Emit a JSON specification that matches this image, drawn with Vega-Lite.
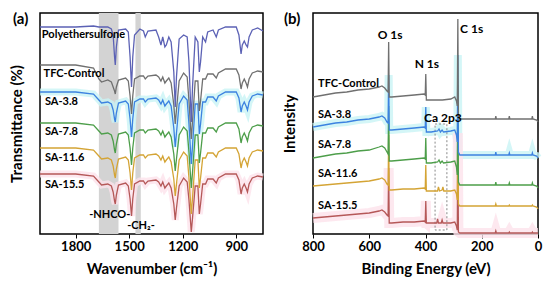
{
"$schema": "https://vega.github.io/schema/vega-lite/v6.json",
"padding": {"left": 8, "top": 11, "right": 0, "bottom": 0},
"config": {
 "view": {"stroke": "#000", "strokeWidth": 1.5},
 "font": "Lato",
 "axis": {"grid": false, "domain": false, "labelFont": "Lato", "labelFontWeight": "bold", "labelFontSize": 13, "labelColor": "#000", "titleFont": "Lato", "titleFontWeight": "bold", "titleFontSize": 15, "titleColor": "#000", "tickColor": "#000", "tickSize": 4, "tickWidth": 1, "labelFlush": false, "labelOverlap": false},
 "concat": {"spacing": 3}
},
"datasets": {
 "bandsA": [{"x": 1670, "x2": 1560}, {"x": 1465, "x2": 1435}],
 "labA": [{"x": 1990, "y": 199, "t": "Polyethersulfone"}, {"x": 1980, "y": 160, "t": "TFC-Control"}, {"x": 1972, "y": 132, "t": "SA-3.8"}, {"x": 1972, "y": 102, "t": "SA-7.8"}, {"x": 1972, "y": 76, "t": "SA-11.6"}, {"x": 1972, "y": 49, "t": "SA-15.5"}],
 "annA": [{"x": 1609, "y": 19, "t": "-NHCO-"}, {"x": 1434, "y": 8, "t": "-CH₂-"}],
 "labB": [{"x": 782, "y": 150, "t": "TFC-Control"}, {"x": 782, "y": 119, "t": "SA-3.8"}, {"x": 782, "y": 89, "t": "SA-7.8"}, {"x": 782, "y": 60, "t": "SA-11.6"}, {"x": 782, "y": 28, "t": "SA-15.5"}],
 "peakB": [{"x": 526, "y": 199, "t": "O 1s"}, {"x": 395, "y": 170, "t": "N 1s"}, {"x": 338, "y": 116, "t": "Ca 2p3"}],
 "cB": [{"x": 277, "y": 205, "t": "C 1s"}],
 "boxB": [{"x": 366, "x2": 324, "y": 110, "y2": 4}],
 "ftir": [
{"s":"SA-15.5","x":2000,"y":60},{"s":"SA-15.5","x":1800,"y":60},{"s":"SA-15.5","x":1700,"y":58},{"s":"SA-15.5","x":1670,"y":52},{"s":"SA-15.5","x":1655,"y":49},{"s":"SA-15.5","x":1620,"y":50},{"s":"SA-15.5","x":1600,"y":48},{"s":"SA-15.5","x":1590,"y":42},{"s":"SA-15.5","x":1582,"y":33},{"s":"SA-15.5","x":1578,"y":30},
{"s":"SA-15.5","x":1572,"y":39},{"s":"SA-15.5","x":1560,"y":49},{"s":"SA-15.5","x":1520,"y":51},{"s":"SA-15.5","x":1505,"y":48},{"s":"SA-15.5","x":1495,"y":35},{"s":"SA-15.5","x":1487,"y":18},{"s":"SA-15.5","x":1480,"y":35},{"s":"SA-15.5","x":1470,"y":50},{"s":"SA-15.5","x":1440,"y":53},{"s":"SA-15.5","x":1420,"y":53},
{"s":"SA-15.5","x":1410,"y":50},{"s":"SA-15.5","x":1395,"y":53},{"s":"SA-15.5","x":1350,"y":54},{"s":"SA-15.5","x":1335,"y":52},{"s":"SA-15.5","x":1322,"y":48},{"s":"SA-15.5","x":1312,"y":52},{"s":"SA-15.5","x":1300,"y":46},{"s":"SA-15.5","x":1292,"y":48},{"s":"SA-15.5","x":1278,"y":51},{"s":"SA-15.5","x":1265,"y":46},
{"s":"SA-15.5","x":1250,"y":30},{"s":"SA-15.5","x":1242,"y":14},{"s":"SA-15.5","x":1235,"y":26},{"s":"SA-15.5","x":1220,"y":48},{"s":"SA-15.5","x":1195,"y":56},{"s":"SA-15.5","x":1175,"y":52},{"s":"SA-15.5","x":1165,"y":34},{"s":"SA-15.5","x":1152,"y":2},{"s":"SA-15.5","x":1145,"y":16},{"s":"SA-15.5","x":1130,"y":48},
{"s":"SA-15.5","x":1115,"y":48},{"s":"SA-15.5","x":1107,"y":20},{"s":"SA-15.5","x":1100,"y":30},{"s":"SA-15.5","x":1088,"y":50},{"s":"SA-15.5","x":1072,"y":50},{"s":"SA-15.5","x":1060,"y":55},{"s":"SA-15.5","x":1030,"y":55},{"s":"SA-15.5","x":1012,"y":51},{"s":"SA-15.5","x":1000,"y":56},{"s":"SA-15.5","x":960,"y":60},
{"s":"SA-15.5","x":900,"y":60},{"s":"SA-15.5","x":885,"y":54},{"s":"SA-15.5","x":873,"y":40},{"s":"SA-15.5","x":866,"y":46},{"s":"SA-15.5","x":855,"y":50},{"s":"SA-15.5","x":845,"y":46},{"s":"SA-15.5","x":837,"y":42},{"s":"SA-15.5","x":828,"y":50},{"s":"SA-15.5","x":810,"y":56},{"s":"SA-15.5","x":780,"y":58},{"s":"SA-15.5","x":750,"y":57},
{"s":"SA-11.6","x":2000,"y":86},{"s":"SA-11.6","x":1800,"y":86},{"s":"SA-11.6","x":1700,"y":84},{"s":"SA-11.6","x":1670,"y":78},{"s":"SA-11.6","x":1655,"y":75},{"s":"SA-11.6","x":1620,"y":76},{"s":"SA-11.6","x":1600,"y":74},{"s":"SA-11.6","x":1590,"y":68},{"s":"SA-11.6","x":1582,"y":59},{"s":"SA-11.6","x":1578,"y":56},
{"s":"SA-11.6","x":1572,"y":65},{"s":"SA-11.6","x":1560,"y":75},{"s":"SA-11.6","x":1520,"y":77},{"s":"SA-11.6","x":1505,"y":74},{"s":"SA-11.6","x":1495,"y":61},{"s":"SA-11.6","x":1487,"y":44},{"s":"SA-11.6","x":1480,"y":61},{"s":"SA-11.6","x":1470,"y":76},{"s":"SA-11.6","x":1440,"y":79},{"s":"SA-11.6","x":1420,"y":79},
{"s":"SA-11.6","x":1410,"y":76},{"s":"SA-11.6","x":1395,"y":79},{"s":"SA-11.6","x":1350,"y":80},{"s":"SA-11.6","x":1335,"y":78},{"s":"SA-11.6","x":1322,"y":74},{"s":"SA-11.6","x":1312,"y":78},{"s":"SA-11.6","x":1300,"y":72},{"s":"SA-11.6","x":1292,"y":74},{"s":"SA-11.6","x":1278,"y":77},{"s":"SA-11.6","x":1265,"y":72},
{"s":"SA-11.6","x":1250,"y":55},{"s":"SA-11.6","x":1242,"y":38},{"s":"SA-11.6","x":1235,"y":50},{"s":"SA-11.6","x":1220,"y":74},{"s":"SA-11.6","x":1195,"y":82},{"s":"SA-11.6","x":1175,"y":78},{"s":"SA-11.6","x":1165,"y":56},{"s":"SA-11.6","x":1152,"y":20},{"s":"SA-11.6","x":1145,"y":36},{"s":"SA-11.6","x":1130,"y":74},
{"s":"SA-11.6","x":1115,"y":74},{"s":"SA-11.6","x":1107,"y":46},{"s":"SA-11.6","x":1100,"y":56},{"s":"SA-11.6","x":1088,"y":76},{"s":"SA-11.6","x":1072,"y":76},{"s":"SA-11.6","x":1060,"y":81},{"s":"SA-11.6","x":1030,"y":81},{"s":"SA-11.6","x":1012,"y":77},{"s":"SA-11.6","x":1000,"y":82},{"s":"SA-11.6","x":960,"y":86},
{"s":"SA-11.6","x":900,"y":86},{"s":"SA-11.6","x":885,"y":80},{"s":"SA-11.6","x":873,"y":66},{"s":"SA-11.6","x":866,"y":72},{"s":"SA-11.6","x":855,"y":76},{"s":"SA-11.6","x":845,"y":72},{"s":"SA-11.6","x":837,"y":68},{"s":"SA-11.6","x":828,"y":76},{"s":"SA-11.6","x":810,"y":82},{"s":"SA-11.6","x":780,"y":84},{"s":"SA-11.6","x":750,"y":83},
{"s":"SA-7.8","x":2000,"y":111},{"s":"SA-7.8","x":1800,"y":111},{"s":"SA-7.8","x":1700,"y":109},{"s":"SA-7.8","x":1670,"y":103},{"s":"SA-7.8","x":1655,"y":100},{"s":"SA-7.8","x":1620,"y":101},{"s":"SA-7.8","x":1600,"y":99},{"s":"SA-7.8","x":1590,"y":93},{"s":"SA-7.8","x":1582,"y":84},{"s":"SA-7.8","x":1578,"y":81},
{"s":"SA-7.8","x":1572,"y":90},{"s":"SA-7.8","x":1560,"y":100},{"s":"SA-7.8","x":1520,"y":102},{"s":"SA-7.8","x":1505,"y":99},{"s":"SA-7.8","x":1495,"y":86},{"s":"SA-7.8","x":1487,"y":69},{"s":"SA-7.8","x":1480,"y":86},{"s":"SA-7.8","x":1470,"y":101},{"s":"SA-7.8","x":1440,"y":104},{"s":"SA-7.8","x":1420,"y":104},
{"s":"SA-7.8","x":1410,"y":101},{"s":"SA-7.8","x":1395,"y":104},{"s":"SA-7.8","x":1350,"y":105},{"s":"SA-7.8","x":1335,"y":103},{"s":"SA-7.8","x":1322,"y":99},{"s":"SA-7.8","x":1312,"y":103},{"s":"SA-7.8","x":1300,"y":97},{"s":"SA-7.8","x":1292,"y":99},{"s":"SA-7.8","x":1278,"y":102},{"s":"SA-7.8","x":1265,"y":97},
{"s":"SA-7.8","x":1250,"y":80},{"s":"SA-7.8","x":1242,"y":63},{"s":"SA-7.8","x":1235,"y":75},{"s":"SA-7.8","x":1220,"y":99},{"s":"SA-7.8","x":1195,"y":107},{"s":"SA-7.8","x":1175,"y":103},{"s":"SA-7.8","x":1165,"y":82},{"s":"SA-7.8","x":1152,"y":46},{"s":"SA-7.8","x":1145,"y":62},{"s":"SA-7.8","x":1130,"y":99},
{"s":"SA-7.8","x":1115,"y":99},{"s":"SA-7.8","x":1107,"y":71},{"s":"SA-7.8","x":1100,"y":81},{"s":"SA-7.8","x":1088,"y":101},{"s":"SA-7.8","x":1072,"y":101},{"s":"SA-7.8","x":1060,"y":106},{"s":"SA-7.8","x":1030,"y":106},{"s":"SA-7.8","x":1012,"y":102},{"s":"SA-7.8","x":1000,"y":107},{"s":"SA-7.8","x":960,"y":111},
{"s":"SA-7.8","x":900,"y":111},{"s":"SA-7.8","x":885,"y":105},{"s":"SA-7.8","x":873,"y":91},{"s":"SA-7.8","x":866,"y":97},{"s":"SA-7.8","x":855,"y":101},{"s":"SA-7.8","x":845,"y":97},{"s":"SA-7.8","x":837,"y":93},{"s":"SA-7.8","x":828,"y":101},{"s":"SA-7.8","x":810,"y":107},{"s":"SA-7.8","x":780,"y":109},{"s":"SA-7.8","x":750,"y":108},
{"s":"SA-3.8","x":2000,"y":142},{"s":"SA-3.8","x":1800,"y":142},{"s":"SA-3.8","x":1700,"y":140},{"s":"SA-3.8","x":1670,"y":134},{"s":"SA-3.8","x":1655,"y":131},{"s":"SA-3.8","x":1620,"y":132},{"s":"SA-3.8","x":1600,"y":130},{"s":"SA-3.8","x":1590,"y":124},{"s":"SA-3.8","x":1582,"y":115},{"s":"SA-3.8","x":1578,"y":112},
{"s":"SA-3.8","x":1572,"y":121},{"s":"SA-3.8","x":1560,"y":131},{"s":"SA-3.8","x":1520,"y":133},{"s":"SA-3.8","x":1505,"y":130},{"s":"SA-3.8","x":1495,"y":115},{"s":"SA-3.8","x":1487,"y":97},{"s":"SA-3.8","x":1480,"y":115},{"s":"SA-3.8","x":1470,"y":132},{"s":"SA-3.8","x":1440,"y":135},{"s":"SA-3.8","x":1420,"y":135},
{"s":"SA-3.8","x":1410,"y":132},{"s":"SA-3.8","x":1395,"y":135},{"s":"SA-3.8","x":1350,"y":136},{"s":"SA-3.8","x":1335,"y":134},{"s":"SA-3.8","x":1322,"y":130},{"s":"SA-3.8","x":1312,"y":134},{"s":"SA-3.8","x":1300,"y":128},{"s":"SA-3.8","x":1292,"y":130},{"s":"SA-3.8","x":1278,"y":133},{"s":"SA-3.8","x":1265,"y":128},
{"s":"SA-3.8","x":1250,"y":106},{"s":"SA-3.8","x":1242,"y":87},{"s":"SA-3.8","x":1235,"y":101},{"s":"SA-3.8","x":1220,"y":130},{"s":"SA-3.8","x":1195,"y":138},{"s":"SA-3.8","x":1175,"y":134},{"s":"SA-3.8","x":1165,"y":110},{"s":"SA-3.8","x":1152,"y":70},{"s":"SA-3.8","x":1145,"y":88},{"s":"SA-3.8","x":1130,"y":130},
{"s":"SA-3.8","x":1115,"y":130},{"s":"SA-3.8","x":1107,"y":100},{"s":"SA-3.8","x":1100,"y":110},{"s":"SA-3.8","x":1088,"y":132},{"s":"SA-3.8","x":1072,"y":132},{"s":"SA-3.8","x":1060,"y":137},{"s":"SA-3.8","x":1030,"y":137},{"s":"SA-3.8","x":1012,"y":133},{"s":"SA-3.8","x":1000,"y":138},{"s":"SA-3.8","x":960,"y":142},
{"s":"SA-3.8","x":900,"y":142},{"s":"SA-3.8","x":885,"y":136},{"s":"SA-3.8","x":873,"y":122},{"s":"SA-3.8","x":866,"y":128},{"s":"SA-3.8","x":855,"y":132},{"s":"SA-3.8","x":845,"y":128},{"s":"SA-3.8","x":837,"y":124},{"s":"SA-3.8","x":828,"y":132},{"s":"SA-3.8","x":810,"y":138},{"s":"SA-3.8","x":780,"y":140},{"s":"SA-3.8","x":750,"y":139},
{"s":"TFC-Control","x":2000,"y":169},{"s":"TFC-Control","x":1800,"y":169},{"s":"TFC-Control","x":1700,"y":166},{"s":"TFC-Control","x":1670,"y":155},{"s":"TFC-Control","x":1655,"y":152},{"s":"TFC-Control","x":1620,"y":154},{"s":"TFC-Control","x":1600,"y":152},{"s":"TFC-Control","x":1590,"y":147},{"s":"TFC-Control","x":1582,"y":143},{"s":"TFC-Control","x":1578,"y":140},
{"s":"TFC-Control","x":1572,"y":147},{"s":"TFC-Control","x":1560,"y":154},{"s":"TFC-Control","x":1520,"y":156},{"s":"TFC-Control","x":1505,"y":153},{"s":"TFC-Control","x":1495,"y":138},{"s":"TFC-Control","x":1487,"y":120},{"s":"TFC-Control","x":1480,"y":138},{"s":"TFC-Control","x":1470,"y":155},{"s":"TFC-Control","x":1440,"y":158},{"s":"TFC-Control","x":1420,"y":158},
{"s":"TFC-Control","x":1410,"y":155},{"s":"TFC-Control","x":1395,"y":158},{"s":"TFC-Control","x":1350,"y":159},{"s":"TFC-Control","x":1335,"y":157},{"s":"TFC-Control","x":1322,"y":153},{"s":"TFC-Control","x":1312,"y":157},{"s":"TFC-Control","x":1300,"y":151},{"s":"TFC-Control","x":1292,"y":153},{"s":"TFC-Control","x":1278,"y":156},{"s":"TFC-Control","x":1265,"y":151},
{"s":"TFC-Control","x":1250,"y":129},{"s":"TFC-Control","x":1242,"y":110},{"s":"TFC-Control","x":1235,"y":124},{"s":"TFC-Control","x":1220,"y":153},{"s":"TFC-Control","x":1195,"y":161},{"s":"TFC-Control","x":1175,"y":157},{"s":"TFC-Control","x":1165,"y":133},{"s":"TFC-Control","x":1152,"y":95},{"s":"TFC-Control","x":1145,"y":113},{"s":"TFC-Control","x":1130,"y":153},
{"s":"TFC-Control","x":1115,"y":153},{"s":"TFC-Control","x":1107,"y":123},{"s":"TFC-Control","x":1100,"y":133},{"s":"TFC-Control","x":1088,"y":155},{"s":"TFC-Control","x":1072,"y":155},{"s":"TFC-Control","x":1060,"y":160},{"s":"TFC-Control","x":1030,"y":160},{"s":"TFC-Control","x":1012,"y":156},{"s":"TFC-Control","x":1000,"y":161},{"s":"TFC-Control","x":960,"y":165},
{"s":"TFC-Control","x":900,"y":165},{"s":"TFC-Control","x":885,"y":159},{"s":"TFC-Control","x":873,"y":145},{"s":"TFC-Control","x":866,"y":151},{"s":"TFC-Control","x":855,"y":155},{"s":"TFC-Control","x":845,"y":151},{"s":"TFC-Control","x":837,"y":147},{"s":"TFC-Control","x":828,"y":155},{"s":"TFC-Control","x":810,"y":161},{"s":"TFC-Control","x":780,"y":163},{"s":"TFC-Control","x":750,"y":162},
{"s":"Polyethersulfone","x":2000,"y":207},{"s":"Polyethersulfone","x":1800,"y":207},{"s":"Polyethersulfone","x":1700,"y":208},{"s":"Polyethersulfone","x":1670,"y":207},{"s":"Polyethersulfone","x":1655,"y":207},{"s":"Polyethersulfone","x":1620,"y":207},{"s":"Polyethersulfone","x":1600,"y":205},{"s":"Polyethersulfone","x":1590,"y":199},{"s":"Polyethersulfone","x":1582,"y":177},{"s":"Polyethersulfone","x":1578,"y":169},
{"s":"Polyethersulfone","x":1572,"y":187},{"s":"Polyethersulfone","x":1560,"y":204},{"s":"Polyethersulfone","x":1520,"y":205},{"s":"Polyethersulfone","x":1505,"y":202},{"s":"Polyethersulfone","x":1495,"y":177},{"s":"Polyethersulfone","x":1487,"y":147},{"s":"Polyethersulfone","x":1480,"y":177},{"s":"Polyethersulfone","x":1470,"y":199},{"s":"Polyethersulfone","x":1440,"y":205},{"s":"Polyethersulfone","x":1420,"y":203},
{"s":"Polyethersulfone","x":1410,"y":197},{"s":"Polyethersulfone","x":1395,"y":203},{"s":"Polyethersulfone","x":1350,"y":204},{"s":"Polyethersulfone","x":1335,"y":197},{"s":"Polyethersulfone","x":1322,"y":189},{"s":"Polyethersulfone","x":1312,"y":197},{"s":"Polyethersulfone","x":1300,"y":187},{"s":"Polyethersulfone","x":1292,"y":189},{"s":"Polyethersulfone","x":1278,"y":197},{"s":"Polyethersulfone","x":1265,"y":192},
{"s":"Polyethersulfone","x":1250,"y":162},{"s":"Polyethersulfone","x":1242,"y":127},{"s":"Polyethersulfone","x":1235,"y":157},{"s":"Polyethersulfone","x":1220,"y":195},{"s":"Polyethersulfone","x":1195,"y":199},{"s":"Polyethersulfone","x":1175,"y":197},{"s":"Polyethersulfone","x":1165,"y":172},{"s":"Polyethersulfone","x":1152,"y":112},{"s":"Polyethersulfone","x":1145,"y":147},{"s":"Polyethersulfone","x":1130,"y":197},
{"s":"Polyethersulfone","x":1115,"y":192},{"s":"Polyethersulfone","x":1107,"y":162},{"s":"Polyethersulfone","x":1100,"y":172},{"s":"Polyethersulfone","x":1088,"y":197},{"s":"Polyethersulfone","x":1072,"y":192},{"s":"Polyethersulfone","x":1060,"y":202},{"s":"Polyethersulfone","x":1030,"y":204},{"s":"Polyethersulfone","x":1012,"y":197},{"s":"Polyethersulfone","x":1000,"y":204},{"s":"Polyethersulfone","x":960,"y":207},
{"s":"Polyethersulfone","x":900,"y":207},{"s":"Polyethersulfone","x":885,"y":199},{"s":"Polyethersulfone","x":873,"y":180},{"s":"Polyethersulfone","x":866,"y":189},{"s":"Polyethersulfone","x":855,"y":193},{"s":"Polyethersulfone","x":845,"y":189},{"s":"Polyethersulfone","x":837,"y":187},{"s":"Polyethersulfone","x":828,"y":197},{"s":"Polyethersulfone","x":810,"y":204},{"s":"Polyethersulfone","x":780,"y":206},{"s":"Polyethersulfone","x":750,"y":203}
 ],
 "xps": [
{"s":"SA-15.5","x":800,"y":16},{"s":"SA-15.5","x":760,"y":17},{"s":"SA-15.5","x":720,"y":18},{"s":"SA-15.5","x":680,"y":19},{"s":"SA-15.5","x":640,"y":20},{"s":"SA-15.5","x":600,"y":21},{"s":"SA-15.5","x":565,"y":23},{"s":"SA-15.5","x":555,"y":24},{"s":"SA-15.5","x":545,"y":22},{"s":"SA-15.5","x":537,"y":19},{"s":"SA-15.5","x":533,"y":18},{"s":"SA-15.5","x":531,"y":66},{"s":"SA-15.5","x":529,"y":11},{"s":"SA-15.5","x":520,"y":11},{"s":"SA-15.5","x":480,"y":12},{"s":"SA-15.5","x":440,"y":12},{"s":"SA-15.5","x":405,"y":13},{"s":"SA-15.5","x":401,"y":12},{"s":"SA-15.5","x":399,"y":33},{"s":"SA-15.5","x":397,"y":11},{"s":"SA-15.5","x":380,"y":11},{"s":"SA-15.5","x":360,"y":11},{"s":"SA-15.5","x":357,"y":15},{"s":"SA-15.5","x":354,"y":11},{"s":"SA-15.5","x":344,"y":11},{"s":"SA-15.5","x":341,"y":14},{"s":"SA-15.5","x":338,"y":11},{"s":"SA-15.5","x":310,"y":11},{"s":"SA-15.5","x":296,"y":12},{"s":"SA-15.5","x":290,"y":8},{"s":"SA-15.5","x":287,"y":4},{"s":"SA-15.5","x":285,"y":101},{"s":"SA-15.5","x":283,"y":2},{"s":"SA-15.5","x":278,"y":1},{"s":"SA-15.5","x":200,"y":1},{"s":"SA-15.5","x":152,"y":1},{"s":"SA-15.5","x":150,"y":3},{"s":"SA-15.5","x":148,"y":1},{"s":"SA-15.5","x":104,"y":1},{"s":"SA-15.5","x":102,"y":2},{"s":"SA-15.5","x":100,"y":1},{"s":"SA-15.5","x":22,"y":1},{"s":"SA-15.5","x":20,"y":2},{"s":"SA-15.5","x":18,"y":1},{"s":"SA-15.5","x":0,"y":1},
{"s":"SA-11.6","x":800,"y":48},{"s":"SA-11.6","x":760,"y":49},{"s":"SA-11.6","x":720,"y":50},{"s":"SA-11.6","x":680,"y":51},{"s":"SA-11.6","x":640,"y":52},{"s":"SA-11.6","x":600,"y":53},{"s":"SA-11.6","x":565,"y":55},{"s":"SA-11.6","x":555,"y":56},{"s":"SA-11.6","x":545,"y":54},{"s":"SA-11.6","x":537,"y":50},{"s":"SA-11.6","x":533,"y":49},{"s":"SA-11.6","x":531,"y":99},{"s":"SA-11.6","x":529,"y":44},{"s":"SA-11.6","x":520,"y":44},{"s":"SA-11.6","x":480,"y":45},{"s":"SA-11.6","x":440,"y":45},{"s":"SA-11.6","x":405,"y":46},{"s":"SA-11.6","x":401,"y":45},{"s":"SA-11.6","x":399,"y":69},{"s":"SA-11.6","x":397,"y":43},{"s":"SA-11.6","x":380,"y":43},{"s":"SA-11.6","x":357,"y":43},{"s":"SA-11.6","x":354,"y":47},{"s":"SA-11.6","x":350,"y":43},{"s":"SA-11.6","x":341,"y":44},{"s":"SA-11.6","x":338,"y":47},{"s":"SA-11.6","x":335,"y":43},{"s":"SA-11.6","x":310,"y":43},{"s":"SA-11.6","x":296,"y":44},{"s":"SA-11.6","x":290,"y":40},{"s":"SA-11.6","x":287,"y":34},{"s":"SA-11.6","x":285,"y":128},{"s":"SA-11.6","x":283,"y":30},{"s":"SA-11.6","x":278,"y":28},{"s":"SA-11.6","x":200,"y":28},{"s":"SA-11.6","x":152,"y":28},{"s":"SA-11.6","x":150,"y":30},{"s":"SA-11.6","x":148,"y":28},{"s":"SA-11.6","x":104,"y":28},{"s":"SA-11.6","x":102,"y":29},{"s":"SA-11.6","x":100,"y":28},{"s":"SA-11.6","x":22,"y":28},{"s":"SA-11.6","x":20,"y":29},{"s":"SA-11.6","x":18,"y":28},{"s":"SA-11.6","x":5,"y":27},{"s":"SA-11.6","x":0,"y":25},
{"s":"SA-7.8","x":800,"y":76},{"s":"SA-7.8","x":760,"y":78},{"s":"SA-7.8","x":720,"y":80},{"s":"SA-7.8","x":680,"y":81},{"s":"SA-7.8","x":640,"y":83},{"s":"SA-7.8","x":600,"y":84},{"s":"SA-7.8","x":565,"y":87},{"s":"SA-7.8","x":555,"y":88},{"s":"SA-7.8","x":545,"y":86},{"s":"SA-7.8","x":537,"y":82},{"s":"SA-7.8","x":533,"y":80},{"s":"SA-7.8","x":531,"y":128},{"s":"SA-7.8","x":529,"y":73},{"s":"SA-7.8","x":520,"y":73},{"s":"SA-7.8","x":480,"y":74},{"s":"SA-7.8","x":440,"y":75},{"s":"SA-7.8","x":405,"y":76},{"s":"SA-7.8","x":401,"y":75},{"s":"SA-7.8","x":399,"y":96},{"s":"SA-7.8","x":397,"y":71},{"s":"SA-7.8","x":380,"y":71},{"s":"SA-7.8","x":357,"y":72},{"s":"SA-7.8","x":352,"y":74},{"s":"SA-7.8","x":347,"y":71},{"s":"SA-7.8","x":341,"y":73},{"s":"SA-7.8","x":336,"y":71},{"s":"SA-7.8","x":310,"y":72},{"s":"SA-7.8","x":296,"y":73},{"s":"SA-7.8","x":290,"y":67},{"s":"SA-7.8","x":287,"y":59},{"s":"SA-7.8","x":285,"y":149},{"s":"SA-7.8","x":283,"y":52},{"s":"SA-7.8","x":278,"y":49},{"s":"SA-7.8","x":200,"y":49},{"s":"SA-7.8","x":152,"y":49},{"s":"SA-7.8","x":150,"y":52},{"s":"SA-7.8","x":148,"y":49},{"s":"SA-7.8","x":104,"y":49},{"s":"SA-7.8","x":102,"y":51},{"s":"SA-7.8","x":100,"y":49},{"s":"SA-7.8","x":22,"y":49},{"s":"SA-7.8","x":20,"y":51},{"s":"SA-7.8","x":18,"y":49},{"s":"SA-7.8","x":5,"y":48},{"s":"SA-7.8","x":0,"y":46},
{"s":"SA-3.8","x":800,"y":107},{"s":"SA-3.8","x":760,"y":109},{"s":"SA-3.8","x":720,"y":111},{"s":"SA-3.8","x":680,"y":112},{"s":"SA-3.8","x":640,"y":114},{"s":"SA-3.8","x":600,"y":115},{"s":"SA-3.8","x":565,"y":117},{"s":"SA-3.8","x":555,"y":118},{"s":"SA-3.8","x":545,"y":116},{"s":"SA-3.8","x":537,"y":112},{"s":"SA-3.8","x":533,"y":111},{"s":"SA-3.8","x":531,"y":159},{"s":"SA-3.8","x":529,"y":104},{"s":"SA-3.8","x":520,"y":104},{"s":"SA-3.8","x":480,"y":105},{"s":"SA-3.8","x":440,"y":106},{"s":"SA-3.8","x":405,"y":107},{"s":"SA-3.8","x":401,"y":106},{"s":"SA-3.8","x":399,"y":127},{"s":"SA-3.8","x":397,"y":102},{"s":"SA-3.8","x":380,"y":102},{"s":"SA-3.8","x":357,"y":103},{"s":"SA-3.8","x":352,"y":105},{"s":"SA-3.8","x":347,"y":102},{"s":"SA-3.8","x":341,"y":104},{"s":"SA-3.8","x":336,"y":102},{"s":"SA-3.8","x":310,"y":103},{"s":"SA-3.8","x":296,"y":104},{"s":"SA-3.8","x":290,"y":99},{"s":"SA-3.8","x":287,"y":92},{"s":"SA-3.8","x":285,"y":179},{"s":"SA-3.8","x":283,"y":82},{"s":"SA-3.8","x":278,"y":79},{"s":"SA-3.8","x":200,"y":79},{"s":"SA-3.8","x":152,"y":79},{"s":"SA-3.8","x":150,"y":82},{"s":"SA-3.8","x":148,"y":79},{"s":"SA-3.8","x":104,"y":79},{"s":"SA-3.8","x":102,"y":81},{"s":"SA-3.8","x":100,"y":79},{"s":"SA-3.8","x":22,"y":79},{"s":"SA-3.8","x":20,"y":81},{"s":"SA-3.8","x":18,"y":79},{"s":"SA-3.8","x":5,"y":78},{"s":"SA-3.8","x":0,"y":76},
{"s":"TFC-Control","x":800,"y":137},{"s":"TFC-Control","x":760,"y":139},{"s":"TFC-Control","x":720,"y":141},{"s":"TFC-Control","x":680,"y":142},{"s":"TFC-Control","x":640,"y":144},{"s":"TFC-Control","x":600,"y":145},{"s":"TFC-Control","x":565,"y":147},{"s":"TFC-Control","x":555,"y":148},{"s":"TFC-Control","x":545,"y":146},{"s":"TFC-Control","x":537,"y":143},{"s":"TFC-Control","x":533,"y":142},{"s":"TFC-Control","x":531,"y":192},{"s":"TFC-Control","x":529,"y":137},{"s":"TFC-Control","x":520,"y":137},{"s":"TFC-Control","x":480,"y":138},{"s":"TFC-Control","x":440,"y":139},{"s":"TFC-Control","x":405,"y":140},{"s":"TFC-Control","x":401,"y":139},{"s":"TFC-Control","x":399,"y":160},{"s":"TFC-Control","x":397,"y":134},{"s":"TFC-Control","x":380,"y":134},{"s":"TFC-Control","x":340,"y":134},{"s":"TFC-Control","x":310,"y":135},{"s":"TFC-Control","x":296,"y":137},{"s":"TFC-Control","x":290,"y":133},{"s":"TFC-Control","x":287,"y":128},{"s":"TFC-Control","x":285,"y":215},{"s":"TFC-Control","x":283,"y":118},{"s":"TFC-Control","x":278,"y":115},{"s":"TFC-Control","x":200,"y":115},{"s":"TFC-Control","x":152,"y":115},{"s":"TFC-Control","x":150,"y":118},{"s":"TFC-Control","x":148,"y":115},{"s":"TFC-Control","x":104,"y":115},{"s":"TFC-Control","x":102,"y":118},{"s":"TFC-Control","x":100,"y":115},{"s":"TFC-Control","x":22,"y":115},{"s":"TFC-Control","x":20,"y":118},{"s":"TFC-Control","x":18,"y":115},{"s":"TFC-Control","x":5,"y":114},{"s":"TFC-Control","x":0,"y":112}
 ]
},
"hconcat": [
 {
  "width": 223, "height": 221,
  "title": {"text": "(a)", "anchor": "start", "frame": "group", "offset": -14, "dx": -27, "fontSize": 15, "fontWeight": "bold", "font": "Lato", "color": "#000"},
  "layer": [
   {"data": {"name": "bandsA"}, "mark": {"type": "rect", "color": "#d3d3d3"},
    "encoding": {"x": {"field": "x", "type": "quantitative", "scale": {"domain": [750, 2000], "reverse": true, "nice": false},
           "axis": {"title": "Wavenumber (cm⁻¹)", "values": [1800, 1500, 1200, 900], "format": "d", "titlePadding": 8}}, "x2": {"field": "x2"}}},
   {"data": {"name": "ftir"}, "transform": [{"filter": "datum.s === 'SA-3.8'"}], "mark": {"type": "line", "color": "#c9f4f5", "strokeWidth": 7, "opacity": 0.8},
    "encoding": {"x": {"field": "x", "type": "quantitative"}, "y": {"field": "y", "type": "quantitative", "scale": {"domain": [0, 221], "nice": false}, "axis": {"title": "Transmittance (%)", "labels": false, "ticks": false, "titlePadding": 16}}}},
   {"data": {"name": "ftir"}, "transform": [{"filter": "datum.s === 'SA-15.5'"}], "mark": {"type": "line", "color": "#fde2eb", "strokeWidth": 7, "opacity": 0.8},
    "encoding": {"x": {"field": "x", "type": "quantitative"}, "y": {"field": "y", "type": "quantitative"}}},
   {"data": {"name": "ftir"}, "mark": {"type": "line", "strokeWidth": 1.3},
    "encoding": {
     "x": {"field": "x", "type": "quantitative"},
     "y": {"field": "y", "type": "quantitative"},
     "color": {"field": "s", "type": "nominal", "legend": null,
       "scale": {"domain": ["Polyethersulfone", "TFC-Control", "SA-3.8", "SA-7.8", "SA-11.6", "SA-15.5"], "range": ["#5c62b5", "#707070", "#3c82e0", "#4d9e4a", "#d4a435", "#b55858"]}}
    }},
   {"data": {"name": "labA"}, "mark": {"type": "text", "align": "left", "baseline": "middle", "fontSize": 11, "fontWeight": "bold", "font": "Lato", "color": "#000"},
    "encoding": {"x": {"field": "x", "type": "quantitative"}, "y": {"field": "y", "type": "quantitative"}, "text": {"field": "t"}}},
   {"data": {"name": "annA"}, "mark": {"type": "text", "align": "center", "baseline": "middle", "fontSize": 11, "fontWeight": "bold", "font": "Lato", "color": "#000"},
    "encoding": {"x": {"field": "x", "type": "quantitative"}, "y": {"field": "y", "type": "quantitative"}, "text": {"field": "t"}}}
  ]
 },
 {
  "width": 225, "height": 221,
  "title": {"text": "(b)", "anchor": "start", "frame": "group", "offset": -14, "dx": -29, "fontSize": 15, "fontWeight": "bold", "font": "Lato", "color": "#000"},
  "layer": [
   {"data": {"name": "xps"}, "transform": [{"filter": "datum.s === 'SA-3.8'"}], "mark": {"type": "line", "color": "#c9f4f5", "strokeWidth": 8, "opacity": 0.8},
    "encoding": {"x": {"field": "x", "type": "quantitative", "scale": {"domain": [0, 800], "reverse": true, "nice": false}}, "y": {"field": "y", "type": "quantitative"}}},
   {"data": {"name": "xps"}, "transform": [{"filter": "datum.s === 'SA-15.5'"}], "mark": {"type": "line", "color": "#fde2eb", "strokeWidth": 10, "opacity": 0.8},
    "encoding": {"x": {"field": "x", "type": "quantitative"}, "y": {"field": "y", "type": "quantitative"}}},
   {"data": {"name": "boxB"}, "mark": {"type": "rect", "fill": "transparent", "stroke": "#888", "strokeDash": [2, 2], "strokeWidth": 1},
    "encoding": {"x": {"field": "x", "type": "quantitative"}, "x2": {"field": "x2"}, "y": {"field": "y", "type": "quantitative"}, "y2": {"field": "y2"}}},
   {"data": {"name": "xps"}, "mark": {"type": "line", "strokeWidth": 1.3},
    "encoding": {
     "x": {"field": "x", "type": "quantitative", "scale": {"domain": [0, 800], "reverse": true, "nice": false},
           "axis": {"title": "Binding Energy (eV)", "values": [800, 700, 600, 500, 400, 300, 200, 100, 0], "labelExpr": "datum.value % 200 === 0 ? datum.label : ''", "format": "d", "titlePadding": 8, "labelOverlap": false}},
     "y": {"field": "y", "type": "quantitative", "scale": {"domain": [0, 221], "nice": false}, "axis": {"title": "Intensity", "labels": false, "ticks": false, "titlePadding": 16}},
     "color": {"field": "s", "type": "nominal", "legend": null,
       "scale": {"domain": ["Polyethersulfone", "TFC-Control", "SA-3.8", "SA-7.8", "SA-11.6", "SA-15.5"], "range": ["#5c62b5", "#707070", "#3c82e0", "#4d9e4a", "#d4a435", "#b55858"]}}
    }},
   {"data": {"name": "labB"}, "mark": {"type": "text", "align": "left", "baseline": "middle", "fontSize": 11, "fontWeight": "bold", "font": "Lato", "color": "#000"},
    "encoding": {"x": {"field": "x", "type": "quantitative"}, "y": {"field": "y", "type": "quantitative"}, "text": {"field": "t"}}},
   {"data": {"name": "peakB"}, "mark": {"type": "text", "align": "center", "baseline": "middle", "fontSize": 12, "fontWeight": "bold", "font": "Lato", "color": "#000"},
    "encoding": {"x": {"field": "x", "type": "quantitative"}, "y": {"field": "y", "type": "quantitative"}, "text": {"field": "t"}}},
   {"data": {"name": "cB"}, "mark": {"type": "text", "align": "left", "baseline": "middle", "fontSize": 12, "fontWeight": "bold", "font": "Lato", "color": "#000"},
    "encoding": {"x": {"field": "x", "type": "quantitative"}, "y": {"field": "y", "type": "quantitative"}, "text": {"field": "t"}}}
  ]
 }
]
}
